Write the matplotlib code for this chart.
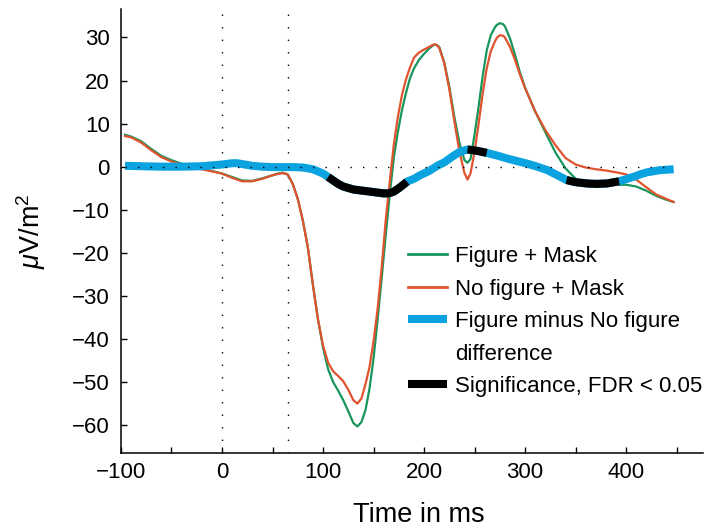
import matplotlib
matplotlib.use("Agg")
import matplotlib.pyplot as plt
import numpy as np
from matplotlib.lines import Line2D

plt.rcParams['font.family'] = ['Liberation Sans', 'DejaVu Sans']
plt.rcParams['mathtext.fontset'] = 'custom'
plt.rcParams['mathtext.rm'] = 'Liberation Sans'
plt.rcParams['mathtext.it'] = 'Liberation Sans:italic'

# ---- data ----
t = [-96, -90, -80, -70, -60, -50, -40, -30, -20, -10, 0, 10, 20, 30, 40, 50, 55, 60, 65,
     70, 75, 80, 85, 90, 95, 100, 105, 110, 115, 120, 125, 130, 134, 138, 142, 146, 150,
     154, 158, 162, 166, 170, 174, 178, 182, 186, 190, 195, 200, 205, 208, 210, 212, 215,
     220, 225, 230, 235, 240, 243, 246, 250, 254, 258, 262, 266, 270, 272, 275, 278, 280,
     285, 290, 295, 300, 310, 320, 330, 340, 350, 360, 370, 380, 390, 400, 410, 420, 430,
     440, 447]

no_figure_mask = [7.1, 6.8, 5.6, 3.8, 2.2, 1.2, 0.5, -0.1, -0.6, -1.1, -1.6, -2.6, -3.4, -3.4,
                  -2.8, -2.0, -1.7, -1.5, -1.8, -4.0, -7.5, -12.5, -18.8, -27.5, -35.5, -41.5,
                  -45.5, -47.5, -48.6, -49.8, -51.8, -54.2, -55.0, -53.8, -50.5, -46.5, -40.5,
                  -33.0, -23.5, -12.5, -3.5, 5.0, 11.5, 16.5, 20.2, 23.0, 25.3, 26.5, 27.2,
                  27.8, 28.2, 28.4, 28.3, 27.6, 24.0, 18.0, 10.5, 3.5, -1.5, -3.0, -1.5, 3.5,
                  10.0, 17.0, 22.8, 26.8, 29.0, 29.9, 30.5, 30.4, 30.0, 27.8, 24.8, 21.3,
                  18.2, 12.8, 8.5, 5.0, 2.0, 0.5, -0.2, -0.6, -0.9, -1.3, -1.8, -3.0, -4.8,
                  -6.5, -7.5, -8.2]

figure_mask = [7.4, 7.0, 5.9, 4.1, 2.5, 1.5, 0.7, 0.0, -0.5, -1.0, -1.6, -2.4, -3.2, -3.3,
               -2.7, -2.0, -1.6, -1.4, -1.8, -4.0, -7.5, -12.5, -18.8, -27.5, -35.5, -42.0,
               -47.0, -50.0, -52.0, -54.2, -56.8, -59.5, -60.3, -59.3, -56.5, -51.5, -44.5,
               -35.5, -26.0, -16.0, -6.5, 2.0, 8.0, 13.0, 17.0, 20.5, 22.8, 24.8, 26.2,
               27.4, 28.0, 28.3, 28.3, 27.8, 24.2, 18.5, 11.5, 5.5, 1.5, 0.9, 1.8, 7.5,
               14.0, 21.0, 27.0, 30.5, 32.3, 32.9, 33.3, 33.1, 32.6, 29.8, 26.0, 21.8,
               18.3, 12.8, 8.0, 3.3, -0.4, -2.8, -3.9, -4.2, -4.2, -4.2, -4.2, -4.6, -5.6,
               -6.8, -7.7, -8.2]

t_diff = [-96, -80, -60, -40, -20, -10, 0, 10, 15, 20, 30, 40, 50, 60, 70, 80, 90, 100, 105,
          110, 115, 120, 130, 140, 150, 160, 165, 170, 175, 180, 183, 190, 196, 205, 213,
          220, 229, 235, 243, 252, 262, 272, 282, 292, 302, 312, 322, 332, 341, 350, 361,
          371, 381, 393, 400, 408, 415, 421, 434, 447]
difference = [0.2, 0.1, 0.0, 0.0, 0.1, 0.3, 0.5, 0.8, 0.8, 0.6, 0.2, 0.0, -0.1, -0.1, -0.1,
              -0.2, -0.6, -1.6, -2.4, -3.2, -4.0, -4.6, -5.3, -5.6, -5.9, -6.2, -6.2, -5.8,
              -5.0, -4.1, -3.5, -2.8, -2.0, -1.0, 0.2, 1.0, 2.5, 3.4, 4.0, 3.7, 3.2, 2.6,
              1.9, 1.3, 0.7, 0.0, -0.8, -2.0, -3.1, -3.6, -3.9, -4.0, -3.9, -3.4, -2.9,
              -2.3, -1.7, -1.3, -0.8, -0.6]

sig_start = [105, 243, 341]
sig_end = [183, 262, 393]

stim_lines = [0, 65]
xticks = [-100, 0, 100, 200, 300, 400]
xticks_minor = [-50, 50, 150, 250, 350, 450]
yticks = [-60, -50, -40, -30, -20, -10, 0, 10, 20, 30]

labels = ['Figure + Mask', 'No figure + Mask', 'Figure minus No figure',
          'difference', 'Significance, FDR < 0.05']

GREEN = '#17955a'
RED = '#e0532f'
BLUE = '#0ba3df'

# ---- plot ----
fig = plt.figure(figsize=(7.18, 5.29), dpi=100)
ax = fig.add_axes([0.1685, 0.1442, 0.8105, 0.8388])

ax.plot(t, figure_mask, color=GREEN, lw=1.6, zorder=3)
ax.plot(t, no_figure_mask, color=RED, lw=1.6, zorder=3)

td = np.array(t_diff, dtype=float)
dv = np.array(difference, dtype=float)
ax.plot(td, dv, color=BLUE, lw=5.8, solid_capstyle='butt', zorder=4)
for s, e in zip(sig_start, sig_end):
    m = (td >= s) & (td <= e)
    ax.plot(td[m], dv[m], color='black', lw=5.8, solid_capstyle='butt', zorder=5)

dot = (0, (1, 8))
for x in stim_lines:
    ax.axvline(x, color='black', lw=1.0, linestyle=dot, zorder=2)
ax.plot([t[0], t[-1]], [0, 0], color='black', lw=1.0, linestyle=dot, zorder=6)

ax.set_xlim(-100, 476)
ax.set_ylim(-66.4, 36.6)
ax.set_xticks(xticks)
ax.set_xticks(xticks_minor, minor=True)
ax.set_yticks(yticks)
for sp in ['top', 'right']:
    ax.spines[sp].set_visible(False)
for sp in ['left', 'bottom']:
    ax.spines[sp].set_linewidth(1.1)
ax.tick_params(axis='both', which='both', direction='in', length=4.5, width=1.0,
               labelsize=16)
ax.tick_params(axis='y', pad=8)
ax.tick_params(axis='x', pad=7)

ax.set_xlabel('Time in ms', fontsize=19.5)
ax.xaxis.set_label_coords(0.512, -0.112)
ax.set_ylabel(r'$\mu$V/m$^2$', fontsize=19.5)
ax.yaxis.set_label_coords(-0.125, 0.5)

handles = [Line2D([], [], color=GREEN, lw=2.0),
           Line2D([], [], color=RED, lw=2.0),
           Line2D([], [], color=BLUE, lw=5.8, solid_capstyle='butt'),
           Line2D([], [], color='none', lw=0),
           Line2D([], [], color='black', lw=5.8, solid_capstyle='butt')]
leg = ax.legend(handles, labels, loc='upper left', frameon=False, fontsize=16,
                bbox_to_anchor=(408 / 718, 1 - 246 / 529), bbox_transform=fig.transFigure,
                borderpad=0, borderaxespad=0, handlelength=1.75, handletextpad=0.38,
                labelspacing=0.52)

fig.savefig('out.png', dpi=100)
